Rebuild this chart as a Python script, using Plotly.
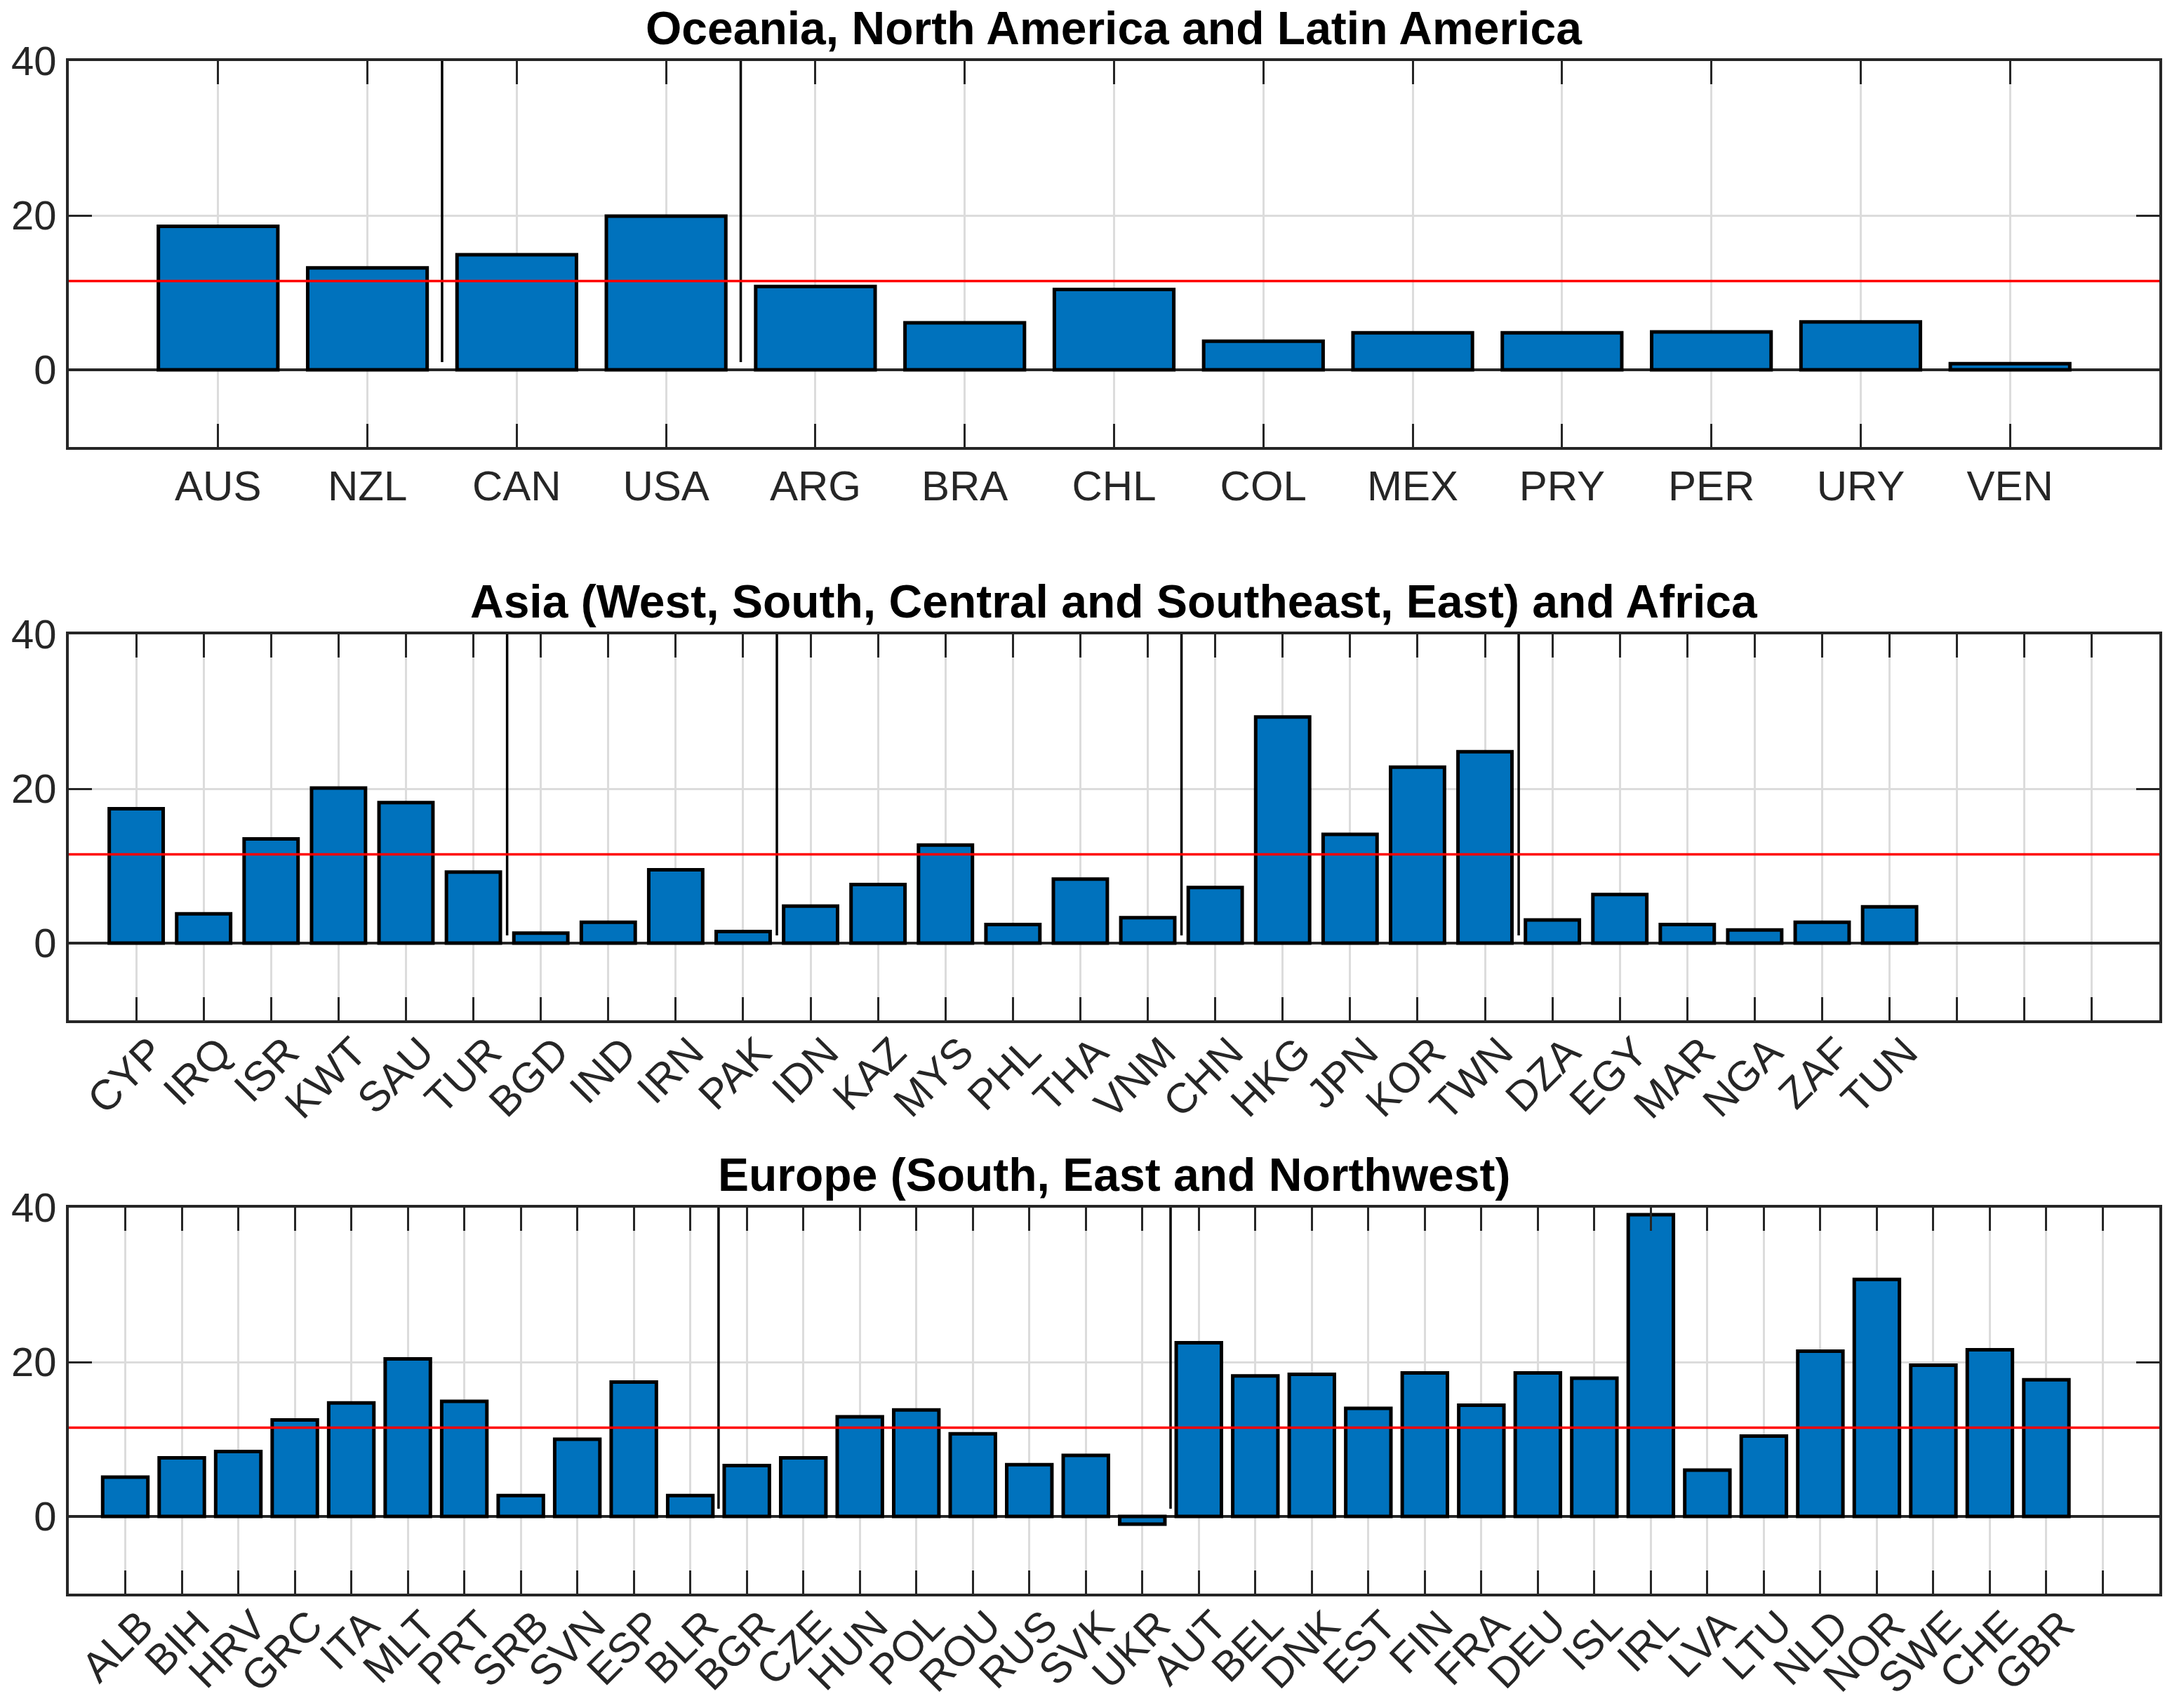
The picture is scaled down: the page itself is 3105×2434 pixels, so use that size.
import plotly.graph_objects as go

# ---------------- data ----------------
p1_title = "Oceania, North America and Latin America"
p1_countries = ["AUS", "NZL", "CAN", "USA", "ARG", "BRA", "CHL", "COL", "MEX", "PRY", "PER", "URY", "VEN"]
p1_values = [18.6, 13.2, 14.9, 19.9, 10.8, 6.1, 10.4, 3.7, 4.8, 4.8, 4.9, 6.2, 0.8]
p1_groups = [2, 2, 9]

p2_title = "Asia (West, South, Central and Southeast, East) and Africa"
p2_countries = ["CYP", "IRQ", "ISR", "KWT", "SAU", "TUR", "BGD", "IND", "IRN", "PAK",
                "IDN", "KAZ", "MYS", "PHL", "THA", "VNM", "CHN", "HKG", "JPN", "KOR",
                "TWN", "DZA", "EGY", "MAR", "NGA", "ZAF", "TUN"]
p2_values = [17.4, 3.8, 13.5, 20.1, 18.2, 9.2, 1.3, 2.7, 9.5, 1.5,
             4.8, 7.6, 12.7, 2.4, 8.3, 3.3, 7.2, 29.3, 14.1, 22.8,
             24.8, 3.0, 6.3, 2.4, 1.7, 2.7, 4.7]
p2_groups = [6, 4, 6, 5, 6]

p3_title = "Europe (South, East and Northwest)"
p3_countries = ["ALB", "BIH", "HRV", "GRC", "ITA", "MLT", "PRT", "SRB", "SVN", "ESP",
                "BLR", "BGR", "CZE", "HUN", "POL", "ROU", "RUS", "SVK", "UKR", "AUT",
                "BEL", "DNK", "EST", "FIN", "FRA", "DEU", "ISL", "IRL", "LVA", "LTU",
                "NLD", "NOR", "SWE", "CHE", "GBR"]
p3_values = [5.1, 7.6, 8.4, 12.5, 14.7, 20.4, 14.9, 2.7, 10.0, 17.4,
             2.7, 6.6, 7.6, 12.9, 13.8, 10.7, 6.7, 7.9, -1.0, 22.5,
             18.2, 18.4, 14.0, 18.6, 14.4, 18.6, 17.9, 39.1, 6.0, 10.4,
             21.4, 30.7, 19.6, 21.6, 17.7]
p3_groups = [11, 8, 16]

reference_value = 11.5
y_ticks = [0, 20, 40]
y_limits = [-10, 40]
x_limits_max = [14, 31, 37]
separator_span = [1, 40]

# ---------------- styling ----------------
W, H = 3105, 2434
FONT = "Liberation Sans, Arial, Helvetica, sans-serif"
AX = "#262626"
BAR = "#0072BD"
GRID = "#DCDCDC"

# (title, labels, values, groups, tick angle, label standoff, label shift)
panels = [
    (p1_title, p1_countries, p1_values, p1_groups, 0, 0, 0),
    (p2_title, p2_countries, p2_values, p2_groups, -45, -18, 22),
    (p3_title, p3_countries, p3_values, p3_groups, -45, -18, 22),
]

# pixel geometry of the axes boxes (top, bottom)
boxes = [(87, 637), (904, 1454), (1721, 2271)]
x_left, x_right = 98, 3077


def px_x(v):
    return v / W


def px_y(v):
    return 1 - v / H


fig = go.Figure()
layout = dict(
    width=W, height=H,
    margin=dict(l=0, r=0, t=0, b=0, pad=0),
    paper_bgcolor="white", plot_bgcolor="white",
    showlegend=False,
    font=dict(family=FONT, color=AX, size=58),
    shapes=[], annotations=[],
)

for i, (title, cats, vals, groups, angle, standoff, shift) in enumerate(panels):
    k = i + 1
    xa = "x" if k == 1 else f"x{k}"
    ya = "y" if k == 1 else f"y{k}"
    xmax = x_limits_max[i]
    pos = list(range(1, len(cats) + 1))

    fig.add_trace(go.Bar(
        x=pos, y=vals, width=0.8,
        marker=dict(color=BAR, line=dict(color="black", width=5)),
        xaxis=xa, yaxis=ya, hoverinfo="x+y",
    ))

    # group separators
    sx, sy = [], []
    c = 0
    for g in groups[:-1]:
        c += g
        b = c + 0.5
        sx += [b, b, None]
        sy += [separator_span[0], separator_span[1], None]
    fig.add_trace(go.Scatter(
        x=sx, y=sy, mode="lines", line=dict(color="black", width=3.5),
        xaxis=xa, yaxis=ya, hoverinfo="skip",
    ))

    top, bot = boxes[i]
    dom_y = [px_y(bot), px_y(top)]
    dom_x = [px_x(x_left), px_x(x_right)]

    tickvals = list(range(1, xmax))
    ticktext = cats + [""] * (len(tickvals) - len(cats))

    xkey = "xaxis" if k == 1 else f"xaxis{k}"
    ykey = "yaxis" if k == 1 else f"yaxis{k}"
    layout[xkey] = dict(
        domain=dom_x, anchor=ya, range=[0, xmax], automargin=False,
        tickmode="array", tickvals=tickvals, ticktext=ticktext,
        tickangle=angle,
        ticks="inside", ticklen=33, tickwidth=3, tickcolor=AX,
        showline=True, linecolor=AX, linewidth=4, mirror="ticks",
        showgrid=True, gridcolor=GRID, gridwidth=3,
        zeroline=False,
        tickfont=dict(family=FONT, size=60, color=AX),
        ticklabelstandoff=standoff, ticklabelshift=shift,
        fixedrange=True,
    )
    layout[ykey] = dict(
        domain=dom_y, anchor=xa, range=y_limits, automargin=False,
        tickmode="array", tickvals=y_ticks,
        ticks="inside", ticklen=33, tickwidth=3, tickcolor=AX,
        showline=True, linecolor=AX, linewidth=4, mirror="ticks",
        showgrid=True, gridcolor=GRID, gridwidth=3,
        zeroline=True, zerolinecolor=AX, zerolinewidth=4,
        tickfont=dict(family=FONT, size=58, color=AX),
        ticklabelstandoff=2,
        fixedrange=True,
    )

    # reference line
    layout["shapes"].append(dict(
        type="line", xref=f"{xa} domain", yref=ya,
        x0=0, x1=1, y0=reference_value, y1=reference_value,
        line=dict(color="#FF0000", width=3.5), layer="above",
    ))

    # title
    layout["annotations"].append(dict(
        text=f"<b>{title}</b>", xref=f"{xa} domain", yref="paper",
        x=0.5, y=px_y(top), xanchor="center", yanchor="bottom",
        yshift=9, showarrow=False, borderpad=0,
        font=dict(family=FONT, size=66, color="black"),
    ))

fig.update_layout(**layout)
fig.write_html(
    "out.html",
    config={"responsive": False, "displayModeBar": False, "staticPlot": True},
    post_script="document.body.style.margin='0px';document.body.style.overflow='hidden';",
)
